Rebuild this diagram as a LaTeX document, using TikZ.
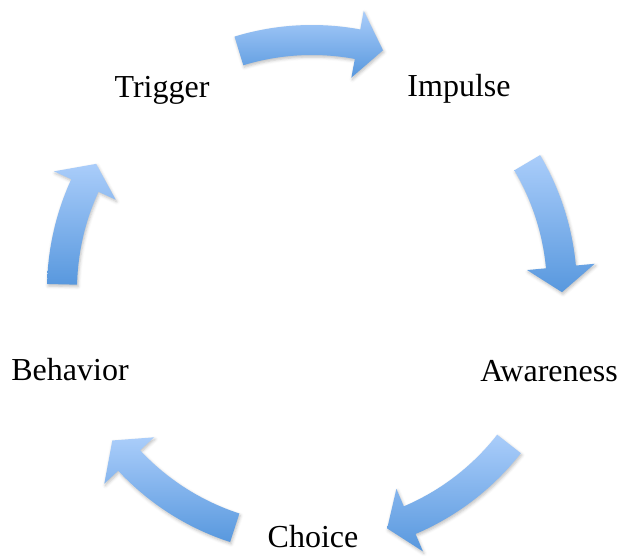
\documentclass[tikz,border=0pt]{standalone}
\usepackage{fontspec}
\setmainfont{Liberation Serif}
\usepackage{tikz}
\usetikzlibrary{shadows.blur}

\begin{document}
\begin{tikzpicture}[x=1pt,y=1pt,
  lbl/.style={anchor=base,font=\fontsize{32}{38}\selectfont},
  cyc/.style={top color=cyctop,bottom color=cycbot,draw=none,
    blur shadow={shadow xshift=1pt,shadow yshift=-2pt,shadow blur radius=3pt,shadow opacity=25}}]
\definecolor{cyctop}{HTML}{AACDFA}
\definecolor{cycbot}{HTML}{5898DE}
\useasboundingbox (0,0) rectangle (626,555);
\coordinate (c) at (312,265);
\node [lbl] (trig) at (162,457) {Trigger};
\node [lbl] (imp) at (459,458) {Impulse};
\node [lbl] (aware) at (549,174) {Awareness};
\node [lbl] (choice) at (313,8) {Choice};
\node [lbl] (behav) at (70,175) {Behavior};
\begin{scope}[shift={(c)}]
% Trigger -> Impulse
\path [cyc] (107:235) arc[start angle=107,end angle=79.5,radius=235]
  -- (79.5:216) -- (73.5:250) -- (79.5:284) -- (79.5:265)
  arc[start angle=79.5,end angle=107,radius=265] -- cycle;
% Impulse -> Awareness
\path [cyc] (30.6:235) arc[start angle=30.6,end angle=5.3,radius=235]
  -- (5.3:216) -- (-0.5:250) -- (5.3:284) -- (5.3:265)
  arc[start angle=5.3,end angle=30.6,radius=265] -- cycle;
% Awareness -> Choice
\path [cyc] (-38:235) arc[start angle=-38,end angle=-67,radius=235]
  -- (-67:216) -- (-72.5:250) -- (-67:284) -- (-67:265)
  arc[start angle=-67,end angle=-38,radius=265] -- cycle;
% Choice -> Behavior
\path [cyc] (-108:235) arc[start angle=-108,end angle=-137,radius=235]
  -- (-137:216) -- (-143:250) -- (-137:284) -- (-137:265)
  arc[start angle=-137,end angle=-108,radius=265] -- cycle;
% Behavior -> Trigger
\path [cyc] (178.7:235) arc[start angle=178.7,end angle=155.3,radius=235]
  -- (155.3:216) -- (149.7:250) -- (155.3:284) -- (155.3:265)
  arc[start angle=155.3,end angle=178.7,radius=265] -- cycle;
\end{scope}
\end{tikzpicture}
\end{document}
